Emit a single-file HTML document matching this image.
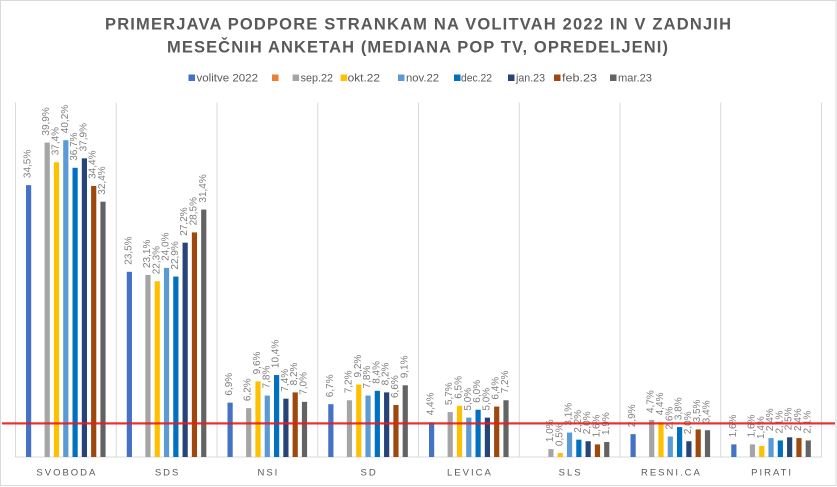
<!DOCTYPE html>
<html><head><meta charset="utf-8"><style>
html,body{margin:0;padding:0;background:#fff;}
svg{display:block;}
.t{font-family:"Liberation Sans",sans-serif;font-weight:bold;fill:#595959;font-size:16.5px;}
.lg{font-family:"Liberation Sans",sans-serif;fill:#595959;font-size:11px;}
.c{font-family:"Liberation Sans",sans-serif;fill:#595959;font-size:9.5px;letter-spacing:2px;text-anchor:middle;}
.d{font-family:"Liberation Sans",sans-serif;fill:#7f7f7f;font-size:10px;}
</style></head><body>
<svg width="837" height="487" viewBox="0 0 837 487" xmlns="http://www.w3.org/2000/svg">
<rect x="0.5" y="0.5" width="835.5" height="485" fill="#fff" stroke="#d9d9d9"/>
<text class="t" x="105" y="29.5" textLength="626" lengthAdjust="spacing">PRIMERJAVA PODPORE STRANKAM NA VOLITVAH 2022 IN V ZADNJIH</text>
<text class="t" x="167" y="52.5" textLength="501" lengthAdjust="spacing">MESEČNIH ANKETAH (MEDIANA POP TV, OPREDELJENI)</text>
<!-- legend -->
<rect x="188.5" y="74.5" width="6.5" height="6.5" fill="#4472C4"/><text class="lg" x="196.5" y="81.5" textLength="61.5" lengthAdjust="spacingAndGlyphs">volitve 2022</text>
<rect x="272" y="74.5" width="6.5" height="6.5" fill="#ED7D31"/>
<rect x="292.6" y="74.5" width="6.5" height="6.5" fill="#A5A5A5"/><text class="lg" x="300.6" y="81.5" textLength="32.4" lengthAdjust="spacingAndGlyphs">sep.22</text>
<rect x="340.6" y="74.5" width="6.5" height="6.5" fill="#FFC000"/><text class="lg" x="347.6" y="81.5" textLength="32.4" lengthAdjust="spacingAndGlyphs">okt.22</text>
<rect x="398" y="74.5" width="6.5" height="6.5" fill="#5B9BD5"/><text class="lg" x="406" y="81.5" textLength="33" lengthAdjust="spacingAndGlyphs">nov.22</text>
<rect x="454" y="74.5" width="6.5" height="6.5" fill="#0070C0"/><text class="lg" x="461" y="81.5" textLength="31" lengthAdjust="spacingAndGlyphs">dec.22</text>
<rect x="508" y="74.5" width="6.5" height="6.5" fill="#264478"/><text class="lg" x="516" y="81.5" textLength="29" lengthAdjust="spacingAndGlyphs">jan.23</text>
<rect x="554" y="74.5" width="6.5" height="6.5" fill="#9E480E"/><text class="lg" x="562" y="81.5" textLength="35" lengthAdjust="spacingAndGlyphs">feb.23</text>
<rect x="610" y="74.5" width="6.5" height="6.5" fill="#636363"/><text class="lg" x="618" y="81.5" textLength="34" lengthAdjust="spacingAndGlyphs">mar.23</text>
<!-- gridlines -->
<g stroke="#d9d9d9" stroke-width="1">
<line x1="15.5" y1="102.5" x2="15.5" y2="457"/>
<line x1="116.25" y1="102.5" x2="116.25" y2="457"/>
<line x1="217" y1="102.5" x2="217" y2="457"/>
<line x1="317.75" y1="102.5" x2="317.75" y2="457"/>
<line x1="418.5" y1="102.5" x2="418.5" y2="457"/>
<line x1="519.25" y1="102.5" x2="519.25" y2="457"/>
<line x1="620" y1="102.5" x2="620" y2="457"/>
<line x1="720.75" y1="102.5" x2="720.75" y2="457"/>
<line x1="821.5" y1="102.5" x2="821.5" y2="457"/>
<line x1="15.5" y1="457" x2="821.5" y2="457"/>
</g>
<!-- bars -->
<g>
<!-- SVOBODA -->
<rect x="26" y="185.14" width="5.2" height="271.86" fill="#4472C4"/>
<rect x="44.6" y="142.59" width="5.2" height="314.41" fill="#A5A5A5"/>
<rect x="53.9" y="162.29" width="5.2" height="294.71" fill="#FFC000"/>
<rect x="63.2" y="140.22" width="5.2" height="316.78" fill="#5B9BD5"/>
<rect x="72.5" y="167.8" width="5.2" height="289.2" fill="#0070C0"/>
<rect x="81.8" y="158.35" width="5.2" height="298.65" fill="#264478"/>
<rect x="91.1" y="185.93" width="5.2" height="271.07" fill="#9E480E"/>
<rect x="100.4" y="201.69" width="5.2" height="255.31" fill="#636363"/>
<!-- SDS -->
<rect x="126.75" y="271.82" width="5.2" height="185.18" fill="#4472C4"/>
<rect x="145.35" y="274.97" width="5.2" height="182.03" fill="#A5A5A5"/>
<rect x="154.65" y="281.28" width="5.2" height="175.72" fill="#FFC000"/>
<rect x="163.95" y="267.88" width="5.2" height="189.12" fill="#5B9BD5"/>
<rect x="173.25" y="276.55" width="5.2" height="180.45" fill="#0070C0"/>
<rect x="182.55" y="242.66" width="5.2" height="214.34" fill="#264478"/>
<rect x="191.85" y="232.42" width="5.2" height="224.58" fill="#9E480E"/>
<rect x="201.15" y="209.57" width="5.2" height="247.43" fill="#636363"/>
<!-- NSI -->
<rect x="227.5" y="402.63" width="5.2" height="54.37" fill="#4472C4"/>
<rect x="246.1" y="408.14" width="5.2" height="48.86" fill="#A5A5A5"/>
<rect x="255.4" y="381.35" width="5.2" height="75.65" fill="#FFC000"/>
<rect x="264.7" y="395.54" width="5.2" height="61.46" fill="#5B9BD5"/>
<rect x="274" y="375.05" width="5.2" height="81.95" fill="#0070C0"/>
<rect x="283.3" y="398.69" width="5.2" height="58.31" fill="#264478"/>
<rect x="292.6" y="392.38" width="5.2" height="64.62" fill="#9E480E"/>
<rect x="301.9" y="401.84" width="5.2" height="55.16" fill="#636363"/>
<!-- SD -->
<rect x="328.25" y="404.2" width="5.2" height="52.8" fill="#4472C4"/>
<rect x="346.85" y="400.26" width="5.2" height="56.74" fill="#A5A5A5"/>
<rect x="356.15" y="384.5" width="5.2" height="72.5" fill="#FFC000"/>
<rect x="365.45" y="395.54" width="5.2" height="61.46" fill="#5B9BD5"/>
<rect x="374.75" y="390.81" width="5.2" height="66.19" fill="#0070C0"/>
<rect x="384.05" y="392.38" width="5.2" height="64.62" fill="#264478"/>
<rect x="393.35" y="404.99" width="5.2" height="52.01" fill="#9E480E"/>
<rect x="402.65" y="385.29" width="5.2" height="71.71" fill="#636363"/>
<!-- LEVICA -->
<rect x="429" y="422.33" width="5.2" height="34.67" fill="#4472C4"/>
<rect x="447.6" y="412.08" width="5.2" height="44.92" fill="#A5A5A5"/>
<rect x="456.9" y="405.78" width="5.2" height="51.22" fill="#FFC000"/>
<rect x="466.2" y="417.6" width="5.2" height="39.4" fill="#5B9BD5"/>
<rect x="475.5" y="409.72" width="5.2" height="47.28" fill="#0070C0"/>
<rect x="484.8" y="417.6" width="5.2" height="39.4" fill="#264478"/>
<rect x="494.1" y="406.57" width="5.2" height="50.43" fill="#9E480E"/>
<rect x="503.4" y="400.26" width="5.2" height="56.74" fill="#636363"/>
<!-- SLS -->
<rect x="548.35" y="449.12" width="5.2" height="7.88" fill="#A5A5A5"/>
<rect x="557.65" y="453.06" width="5.2" height="3.94" fill="#FFC000"/>
<rect x="566.95" y="432.57" width="5.2" height="24.43" fill="#5B9BD5"/>
<rect x="576.25" y="439.66" width="5.2" height="17.34" fill="#0070C0"/>
<rect x="585.55" y="441.24" width="5.2" height="15.76" fill="#264478"/>
<rect x="594.85" y="444.39" width="5.2" height="12.61" fill="#9E480E"/>
<rect x="604.15" y="442.03" width="5.2" height="14.97" fill="#636363"/>
<!-- RESNI.CA -->
<rect x="630.5" y="434.15" width="5.2" height="22.85" fill="#4472C4"/>
<rect x="649.1" y="419.96" width="5.2" height="37.04" fill="#A5A5A5"/>
<rect x="658.4" y="422.33" width="5.2" height="34.67" fill="#FFC000"/>
<rect x="667.7" y="436.51" width="5.2" height="20.49" fill="#5B9BD5"/>
<rect x="677" y="427.06" width="5.2" height="29.94" fill="#0070C0"/>
<rect x="686.3" y="441.24" width="5.2" height="15.76" fill="#264478"/>
<rect x="695.6" y="429.42" width="5.2" height="27.58" fill="#9E480E"/>
<rect x="704.9" y="430.21" width="5.2" height="26.79" fill="#636363"/>
<!-- PIRATI -->
<rect x="731.25" y="444.39" width="5.2" height="12.61" fill="#4472C4"/>
<rect x="749.85" y="444.39" width="5.2" height="12.61" fill="#A5A5A5"/>
<rect x="759.15" y="445.97" width="5.2" height="11.03" fill="#FFC000"/>
<rect x="768.45" y="438.09" width="5.2" height="18.91" fill="#5B9BD5"/>
<rect x="777.75" y="440.45" width="5.2" height="16.55" fill="#0070C0"/>
<rect x="787.05" y="437.3" width="5.2" height="19.7" fill="#264478"/>
<rect x="796.35" y="438.09" width="5.2" height="18.91" fill="#9E480E"/>
<rect x="805.65" y="440.45" width="5.2" height="16.55" fill="#636363"/>
</g>
<!-- data labels -->
<g class="d">
<text class="d" transform="translate(30.6,178.1) rotate(-90)">34,5%</text>
<text class="d" transform="translate(49.2,135.6) rotate(-90)">39,9%</text>
<text class="d" transform="translate(58.5,155.3) rotate(-90)">37,4%</text>
<text class="d" transform="translate(67.8,133.2) rotate(-90)">40,2%</text>
<text class="d" transform="translate(77.1,160.8) rotate(-90)">36,7%</text>
<text class="d" transform="translate(86.4,151.4) rotate(-90)">37,9%</text>
<text class="d" transform="translate(95.7,178.9) rotate(-90)">34,4%</text>
<text class="d" transform="translate(105,194.7) rotate(-90)">32,4%</text>

<text class="d" transform="translate(131.35,264.8) rotate(-90)">23,5%</text>
<text class="d" transform="translate(149.95,268) rotate(-90)">23,1%</text>
<text class="d" transform="translate(159.25,274.3) rotate(-90)">22,3%</text>
<text class="d" transform="translate(168.55,260.9) rotate(-90)">24,0%</text>
<text class="d" transform="translate(177.85,269.6) rotate(-90)">22,9%</text>
<text class="d" transform="translate(187.15,235.7) rotate(-90)">27,2%</text>
<text class="d" transform="translate(196.45,225.4) rotate(-90)">28,5%</text>
<text class="d" transform="translate(205.75,202.6) rotate(-90)">31,4%</text>

<text class="d" transform="translate(232.1,395.6) rotate(-90)">6,9%</text>
<text class="d" transform="translate(250.7,401.1) rotate(-90)">6,2%</text>
<text class="d" transform="translate(260,374.4) rotate(-90)">9,6%</text>
<text class="d" transform="translate(269.3,388.5) rotate(-90)">7,8%</text>
<text class="d" transform="translate(278.6,368.1) rotate(-90)">10,4%</text>
<text class="d" transform="translate(287.9,391.7) rotate(-90)">7,4%</text>
<text class="d" transform="translate(297.2,385.4) rotate(-90)">8,2%</text>
<text class="d" transform="translate(306.5,394.8) rotate(-90)">7,0%</text>

<text class="d" transform="translate(332.85,397.2) rotate(-90)">6,7%</text>
<text class="d" transform="translate(351.45,393.3) rotate(-90)">7,2%</text>
<text class="d" transform="translate(360.75,377.5) rotate(-90)">9,2%</text>
<text class="d" transform="translate(370.05,388.5) rotate(-90)">7,8%</text>
<text class="d" transform="translate(379.35,383.8) rotate(-90)">8,4%</text>
<text class="d" transform="translate(388.65,385.4) rotate(-90)">8,2%</text>
<text class="d" transform="translate(397.95,398) rotate(-90)">6,6%</text>
<text class="d" transform="translate(407.25,378.3) rotate(-90)">9,1%</text>

<text class="d" transform="translate(433.6,415.3) rotate(-90)">4,4%</text>
<text class="d" transform="translate(452.2,405.1) rotate(-90)">5,7%</text>
<text class="d" transform="translate(461.5,398.8) rotate(-90)">6,5%</text>
<text class="d" transform="translate(470.8,410.6) rotate(-90)">5,0%</text>
<text class="d" transform="translate(480.1,402.7) rotate(-90)">6,0%</text>
<text class="d" transform="translate(489.4,410.6) rotate(-90)">5,0%</text>
<text class="d" transform="translate(498.7,399.6) rotate(-90)">6,4%</text>
<text class="d" transform="translate(508,393.3) rotate(-90)">7,2%</text>

<text class="d" transform="translate(552.95,442.1) rotate(-90)">1,0%</text>
<text class="d" transform="translate(562.25,446.1) rotate(-90)">0,5%</text>
<text class="d" transform="translate(571.55,425.6) rotate(-90)">3,1%</text>
<text class="d" transform="translate(580.85,432.7) rotate(-90)">2,2%</text>
<text class="d" transform="translate(590.15,434.2) rotate(-90)">2,0%</text>
<text class="d" transform="translate(599.45,437.4) rotate(-90)">1,6%</text>
<text class="d" transform="translate(608.75,435) rotate(-90)">1,9%</text>

<text class="d" transform="translate(635.1,427.2) rotate(-90)">2,9%</text>
<text class="d" transform="translate(653.7,413) rotate(-90)">4,7%</text>
<text class="d" transform="translate(663,415.3) rotate(-90)">4,4%</text>
<text class="d" transform="translate(672.3,429.5) rotate(-90)">2,6%</text>
<text class="d" transform="translate(681.6,420.1) rotate(-90)">3,8%</text>
<text class="d" transform="translate(690.9,434.2) rotate(-90)">2,0%</text>
<text class="d" transform="translate(700.2,422.4) rotate(-90)">3,5%</text>
<text class="d" transform="translate(709.5,423.2) rotate(-90)">3,4%</text>

<text class="d" transform="translate(735.85,437.4) rotate(-90)">1,6%</text>
<text class="d" transform="translate(754.45,437.4) rotate(-90)">1,6%</text>
<text class="d" transform="translate(763.75,439) rotate(-90)">1,4%</text>
<text class="d" transform="translate(773.05,431.1) rotate(-90)">2,4%</text>
<text class="d" transform="translate(782.35,433.5) rotate(-90)">2,1%</text>
<text class="d" transform="translate(791.65,430.3) rotate(-90)">2,5%</text>
<text class="d" transform="translate(800.95,431.1) rotate(-90)">2,4%</text>
<text class="d" transform="translate(810.25,433.5) rotate(-90)">2,1%</text>
</g>
<!-- category labels -->
<text class="c" x="66.9" y="475.5">SVOBODA</text>
<text class="c" x="167.6" y="475.5">SDS</text>
<text class="c" x="268.4" y="475.5">NSI</text>
<text class="c" x="369.1" y="475.5">SD</text>
<text class="c" x="469.9" y="475.5">LEVICA</text>
<text class="c" x="570.6" y="475.5">SLS</text>
<text class="c" x="671.4" y="475.5">RESNI.CA</text>
<text class="c" x="772.1" y="475.5">PIRATI</text>
<!-- red line -->
<rect x="2" y="422.3" width="833" height="2.2" fill="#e8191b" fill-opacity="0.9"/>
</svg>
</body></html>
